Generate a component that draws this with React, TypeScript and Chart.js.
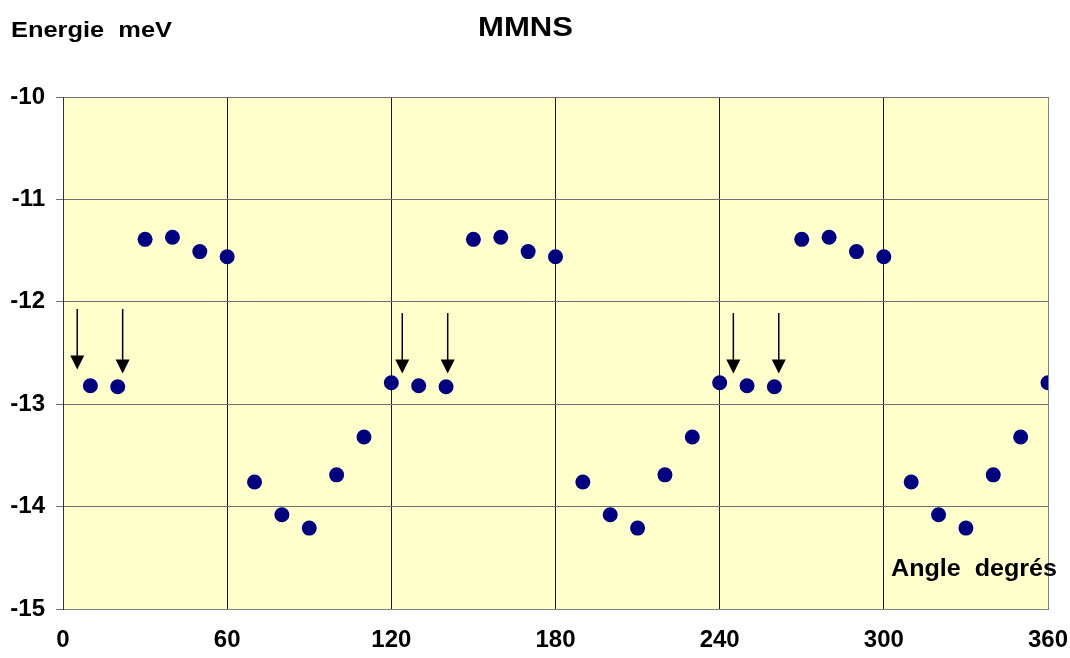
import React, { useEffect, useRef } from "react";
import { Chart, registerables } from "chart.js";

Chart.register(...registerables);

const angles = [10, 20, 30, 40, 50, 60, 70, 80, 90, 100, 110, 120, 130, 140, 150, 160, 170, 180, 190, 200, 210, 220, 230, 240, 250, 260, 270, 280, 290, 300, 310, 320, 330, 340, 350, 360];
const energies = [
  -12.82, -12.83, -11.39, -11.37, -11.51, -11.56, -13.76, -14.08, -14.21, -13.69, -13.32, -12.79,
  -12.82, -12.83, -11.39, -11.37, -11.51, -11.56, -13.76, -14.08, -14.21, -13.69, -13.32, -12.79,
  -12.82, -12.83, -11.39, -11.37, -11.51, -11.56, -13.76, -14.08, -14.21, -13.69, -13.32, -12.79,
];
const xTicks = [0, 60, 120, 180, 240, 300, 360];
const yTicks = [-15, -14, -13, -12, -11, -10];
const arrowX = [5.2, 21.8, 124.0, 140.6, 245.0, 261.6];
const arrowTop = [-12.07, -12.07, -12.11, -12.11, -12.11, -12.11];
const arrowTip = [-12.66, -12.7, -12.7, -12.7, -12.7, -12.7];

const FONT = "'Liberation Sans', Arial, sans-serif";

const bgPlugin = {
  id: "bgFill",
  beforeDraw(chart: any) {
    const { ctx, chartArea } = chart;
    ctx.save();
    ctx.fillStyle = "#FFFFCC";
    ctx.fillRect(chartArea.left, chartArea.top, chartArea.right - chartArea.left, chartArea.bottom - chartArea.top);
    ctx.restore();
  },
};

const arrowPlugin = {
  id: "arrows",
  afterDatasetsDraw(chart: any) {
    const { ctx, scales } = chart;
    const xs = scales.x;
    const ys = scales.y;
    ctx.save();
    ctx.strokeStyle = "#000";
    ctx.fillStyle = "#000";
    ctx.lineWidth = 1.5;
    for (let i = 0; i < arrowX.length; i++) {
      const x = xs.getPixelForValue(arrowX[i]);
      const y0 = ys.getPixelForValue(arrowTop[i]);
      const y1 = ys.getPixelForValue(arrowTip[i]);
      const head = 14;
      ctx.beginPath();
      ctx.moveTo(x, y0);
      ctx.lineTo(x, y1 - head + 1);
      ctx.stroke();
      ctx.beginPath();
      ctx.moveTo(x - 7, y1 - head);
      ctx.lineTo(x + 7, y1 - head);
      ctx.lineTo(x, y1);
      ctx.closePath();
      ctx.fill();
    }
    ctx.restore();
  },
};

function fitText(ctx: CanvasRenderingContext2D, text: string, left: number, baseline: number, width: number, font: string) {
  ctx.save();
  ctx.font = font;
  ctx.textAlign = "left";
  ctx.textBaseline = "alphabetic";
  const w = ctx.measureText(text).width;
  const sx = width / w;
  ctx.translate(left, baseline);
  ctx.scale(sx, 1);
  ctx.fillText(text, 0, 0);
  ctx.restore();
}

const textPlugin = {
  id: "texts",
  afterDraw(chart: any) {
    const { ctx } = chart;
    ctx.save();
    ctx.fillStyle = "#000";
    fitText(ctx, "MMNS", 478, 36, 95, `bold 28px ${FONT}`);
    fitText(ctx, "Energie  meV", 11, 37, 161, `bold 22px ${FONT}`);
    fitText(ctx, "Angle  degrés", 891, 576, 166, `bold 24px ${FONT}`);
    ctx.restore();
  },
};

export default function App() {
  const ref = useRef<HTMLCanvasElement>(null);
  useEffect(() => {
    if (!ref.current) return;
    const chart = new Chart(ref.current, {
      type: "scatter",
      data: {
        datasets: [
          {
            label: "MMNS",
            data: angles.map((a, i) => ({ x: a, y: energies[i] })),
            backgroundColor: "#000080",
            borderColor: "#000080",
            borderWidth: 0,
            pointRadius: 7.5,
            pointHoverRadius: 7.5,
          },
        ],
      },
      options: {
        animation: false,
        responsive: false,
        maintainAspectRatio: false,
        events: [],
        layout: { padding: { top: 97, right: 22, left: 0, bottom: 0 } },
        plugins: {
          legend: { display: false },
          title: { display: false },
          tooltip: { enabled: false },
        },
        scales: {
          x: {
            type: "linear",
            min: 0,
            max: 360,
            afterBuildTicks: (s: any) => {
              s.ticks = xTicks.map((v) => ({ value: v }));
            },
            afterFit: (s: any) => {
              s.height = 49;
              s.paddingLeft = 0;
              s.paddingRight = 0;
            },
            grid: {
              drawTicks: false,
              color: (c: any) => (c.tick && c.tick.value === 360 ? "#808080" : "#1a1a1a"),
              lineWidth: 1,
            },
            border: { display: true, color: "#808080", width: 1 },
            ticks: {
              padding: 17,
              maxRotation: 0,
              autoSkip: false,
              color: "#000",
              font: { family: FONT, size: 24, weight: "bold" },
            },
          },
          y: {
            type: "linear",
            min: -15,
            max: -10,
            afterBuildTicks: (s: any) => {
              s.ticks = yTicks.map((v) => ({ value: v }));
            },
            afterFit: (s: any) => {
              s.width = 63;
              s.paddingTop = 0;
              s.paddingBottom = 0;
            },
            grid: {
              drawTicks: true,
              tickLength: 7,
              color: "#707070",
              lineWidth: 1,
            },
            border: { display: true, color: "#333", width: 1 },
            ticks: {
              padding: 11,
              autoSkip: false,
              color: "#000",
              font: { family: FONT, size: 24, weight: "bold" },
            },
          },
        },
      },
      plugins: [bgPlugin, arrowPlugin, textPlugin],
    });
    return () => chart.destroy();
  }, []);
  return (
    <div style={{ position: "absolute", left: 0, top: 0, width: 1070, height: 658, background: "#fff" }}>
      <canvas ref={ref} width={1070} height={658} style={{ width: 1070, height: 658 }} />
    </div>
  );
}
